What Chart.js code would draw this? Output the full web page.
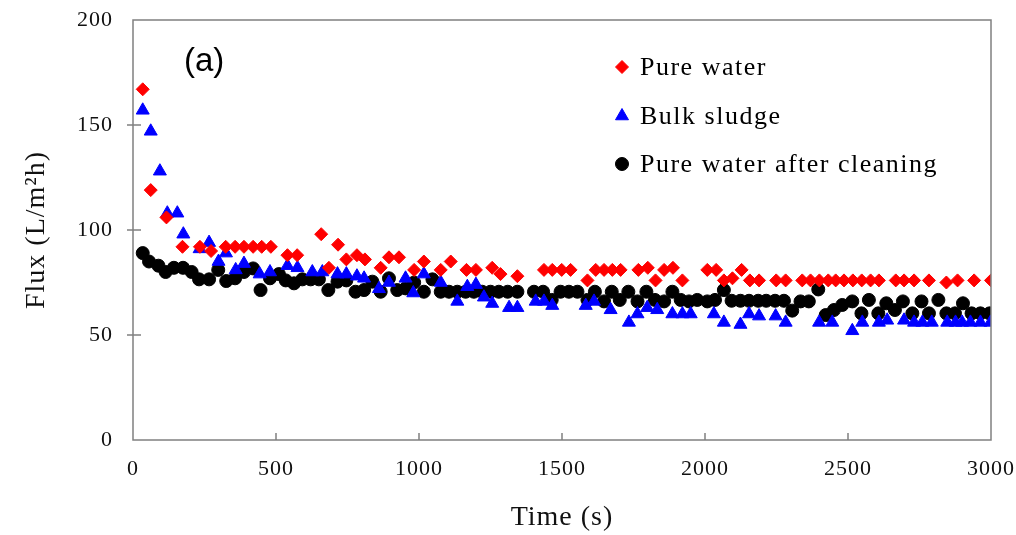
<!DOCTYPE html>
<html>
<head>
<meta charset="utf-8">
<script src="https://cdn.jsdelivr.net/npm/chart.js@4.4.1/dist/chart.umd.min.js"></script>
<style>
  html, body { margin: 0; padding: 0; background: #fff; }
  #wrap { width: 1016px; height: 535px; }
</style>
</head>
<body>
<div id="wrap"><canvas id="fluxChart" width="1016" height="535"></canvas></div>
<script>
// time axis values (s) and flux values (L/m2h)
const pureTime = [34, 62, 117, 173, 234, 273, 324, 357, 388, 420, 450, 482, 540, 574, 658, 685, 717, 746, 783, 811,
  866, 895, 930, 983, 1017, 1076, 1111, 1166, 1199, 1256, 1285, 1344, 1437, 1466, 1499, 1530, 1589, 1618, 1647, 1676,
  1705, 1767, 1800, 1827, 1857, 1888, 1921, 2008, 2039, 2066, 2096, 2128, 2157, 2189, 2249, 2282, 2340, 2369, 2400, 2431,
  2457, 2486, 2517, 2548, 2579, 2608, 2667, 2696, 2731, 2783, 2844, 2883, 2941, 3000];
const pureFlux = [167, 119, 106, 92, 92, 90, 92, 92, 92, 92, 92, 92, 88, 88, 98, 82, 93, 86, 88, 86,
  82, 87, 87, 81, 85, 81, 85, 81, 81, 82, 79, 78, 81, 81, 81, 81, 76, 81, 81, 81,
  81, 81, 82, 76, 81, 82, 76, 81, 81, 76, 77, 81, 76, 76, 76, 76, 76, 76, 76, 76,
  76, 76, 76, 76, 76, 76, 76, 76, 76, 76, 75, 76, 76, 76];

const sludgeTime = [34, 62, 94, 120, 155, 176, 233, 266, 299, 325, 359, 388, 443, 479, 540, 575, 627, 662, 715, 746,
  783, 808, 860, 895, 953, 980, 1017, 1076, 1134, 1169, 1199, 1227, 1256, 1315, 1344, 1408, 1437, 1466, 1583, 1612,
  1670, 1734, 1764, 1798, 1833, 1886, 1921, 1950, 2031, 2066, 2124, 2154, 2189, 2247, 2282, 2399, 2445, 2515, 2550, 2608,
  2637, 2696, 2731, 2760, 2793, 2847, 2876, 2899, 2928, 2963, 2998];
const sludgeFlux = [157, 147, 128, 108, 108, 98, 91, 94, 85, 89, 81, 84, 79, 80, 83, 82, 80, 80, 79, 79,
  78, 77, 72, 75, 77, 70, 79, 75, 66, 73, 74, 68, 65, 63, 63, 66, 66, 64, 64, 66,
  62, 56, 60, 63, 62, 60, 60, 60, 60, 56, 55, 60, 59, 59, 56, 56, 56, 52, 56, 56,
  57, 57, 56, 56, 56, 56, 56, 56, 56, 56, 56];

const cleanTime = [34, 56, 89, 114, 143, 175, 205, 231, 266, 298, 326, 357, 388, 420, 446, 479, 510, 534, 563, 592,
  621, 650, 683, 715, 746, 778, 808, 837, 866, 895, 924, 953, 983, 1017, 1047, 1076, 1105, 1134, 1163, 1192,
  1221, 1250, 1279, 1310, 1344, 1402, 1434, 1464, 1495, 1524, 1554, 1589, 1615, 1647, 1674, 1702, 1732, 1764, 1795, 1825,
  1857, 1886, 1915, 1944, 1973, 2008, 2035, 2066, 2093, 2124, 2154, 2186, 2214, 2245, 2276, 2305, 2334, 2363, 2396, 2422,
  2451, 2480, 2515, 2547, 2573, 2606, 2634, 2664, 2692, 2725, 2757, 2783, 2816, 2844, 2874, 2902, 2932, 2963, 2995];
const cleanFlux = [89, 85, 83, 80, 82, 82, 80, 76.5, 76.5, 81, 75.7, 77, 80, 81.7, 71.4, 77, 79, 76, 74.6, 76.5,
  76.5, 76.5, 71.4, 75.4, 76, 70.6, 71.4, 75.4, 70.6, 77, 71.4, 72.2, 75, 70.6, 76.5, 70.6, 70.6, 70.6, 70.6, 70.6,
  70.6, 70.6, 70.6, 70.6, 70.6, 70.6, 70.6, 66.7, 70.6, 70.6, 70.6, 66.7, 70.6, 66, 70.6, 66.7, 70.6, 66, 70.6, 66.7,
  66, 70.6, 66.7, 66, 66.7, 66, 66.7, 71.4, 66.3, 66.3, 66.3, 66.3, 66.3, 66.3, 66.3, 61.6, 66, 66, 71.7, 59.5,
  61.9, 64.3, 66, 60.3, 66.7, 60.3, 65.1, 61.9, 66, 60.3, 66, 60.3, 66.7, 60.3, 60.3, 65.1, 60.3, 60.3, 60.3];

const seriesNames = ['Pure water', 'Bulk sludge', 'Pure water after cleaning'];
const xTicks = [0, 500, 1000, 1500, 2000, 2500, 3000];
const yTicks = [0, 50, 100, 150, 200];

const toPoints = (xs, ys) => xs.map((x, i) => ({ x: x, y: ys[i] }));

const serif = 'Liberation Serif, Times New Roman, serif';

// frame, inner ticks, panel label and legend
const decorations = {
  id: 'decorations',
  beforeDraw(chart) {
    chart.ctx.letterSpacing = '1px';
  },
  afterDraw(chart) {
    const { ctx, chartArea: a, scales } = chart;
    ctx.save();
    ctx.letterSpacing = '0px';
    ctx.strokeStyle = '#808080';
    ctx.lineWidth = 1.5;
    ctx.strokeRect(a.left, a.top, a.right - a.left, a.bottom - a.top);

    ctx.beginPath();
    xTicks.slice(1, -1).forEach(v => {
      const px = scales.x.getPixelForValue(v);
      ctx.moveTo(px, a.bottom);
      ctx.lineTo(px, a.bottom - 7);
    });
    yTicks.slice(1, -1).forEach(v => {
      const py = scales.y.getPixelForValue(v);
      ctx.moveTo(a.left - 6, py);
      ctx.lineTo(a.left + 8, py);
    });
    ctx.stroke();

    ctx.fillStyle = '#000';
    ctx.font = '33px Liberation Sans, Arial, sans-serif';
    ctx.textBaseline = 'middle';
    ctx.textAlign = 'left';
    ctx.fillText('(a)', 184, 62);

    // legend
    const rows = [67, 116, 164];
    ctx.font = '26px ' + serif;
    ctx.letterSpacing = '1.5px';
    chart.data.datasets.forEach((ds, i) => {
      ctx.fillStyle = ds.backgroundColor;
      ctx.strokeStyle = ds.borderColor;
      ctx.lineWidth = 1;
      Chart.helpers.drawPoint(ctx, {
        pointStyle: ds.pointStyle,
        radius: ds.pointRadius,
        rotation: 0,
        borderWidth: 1
      }, 622, rows[i]);
      ctx.fillStyle = '#000';
      ctx.fillText(ds.label, 640, rows[i] + 1);
    });
    ctx.restore();
  }
};

new Chart(document.getElementById('fluxChart'), {
  type: 'scatter',
  data: {
    datasets: [
      {
        label: seriesNames[0],
        data: toPoints(pureTime, pureFlux),
        pointStyle: 'rectRot',
        pointRadius: 6.5,
        backgroundColor: '#ff0000',
        borderColor: '#ff0000',
        borderWidth: 1
      },
      {
        label: seriesNames[1],
        data: toPoints(sludgeTime, sludgeFlux),
        pointStyle: 'triangle',
        pointRadius: 7.5,
        backgroundColor: '#0000ff',
        borderColor: '#0000ff',
        borderWidth: 1
      },
      {
        label: seriesNames[2],
        data: toPoints(cleanTime, cleanFlux),
        pointStyle: 'circle',
        pointRadius: 6.5,
        backgroundColor: '#000000',
        borderColor: '#000000',
        borderWidth: 1
      }
    ]
  },
  options: {
    responsive: false,
    devicePixelRatio: 1,
    animation: false,
    layout: { padding: { top: 20, right: 25, left: 0, bottom: 0 } },
    plugins: {
      legend: { display: false },
      tooltip: { enabled: false }
    },
    scales: {
      x: {
        type: 'linear',
        min: 0,
        max: 3000,
        afterFit: s => { s.height = 95; s.paddingLeft = 0; s.paddingRight = 0; },
        afterBuildTicks: s => { s.ticks = xTicks.map(v => ({ value: v })); },
        grid: { display: false, drawTicks: false },
        border: { display: false },
        ticks: {
          color: '#111',
          padding: 16,
          maxRotation: 0,
          callback: v => String(v),
          font: { family: serif, size: 22 }
        },
        title: {
          display: true,
          text: 'Time (s)',
          color: '#111',
          padding: { top: 0, bottom: 1 },
          font: { family: serif, size: 28 }
        }
      },
      y: {
        min: 0,
        max: 200,
        afterFit: s => { s.width = 133; s.paddingTop = 0; s.paddingBottom = 0; },
        afterBuildTicks: s => { s.ticks = yTicks.map(v => ({ value: v })); },
        grid: { display: false, drawTicks: false },
        border: { display: false },
        ticks: {
          color: '#111',
          padding: 20,
          callback: v => String(v),
          font: { family: serif, size: 22 }
        },
        title: {
          display: true,
          text: 'Flux (L/m²h)',
          color: '#111',
          padding: { top: 20, bottom: 0 },
          font: { family: serif, size: 28 }
        }
      }
    }
  },
  plugins: [decorations]
});
</script>
</body>
</html>
